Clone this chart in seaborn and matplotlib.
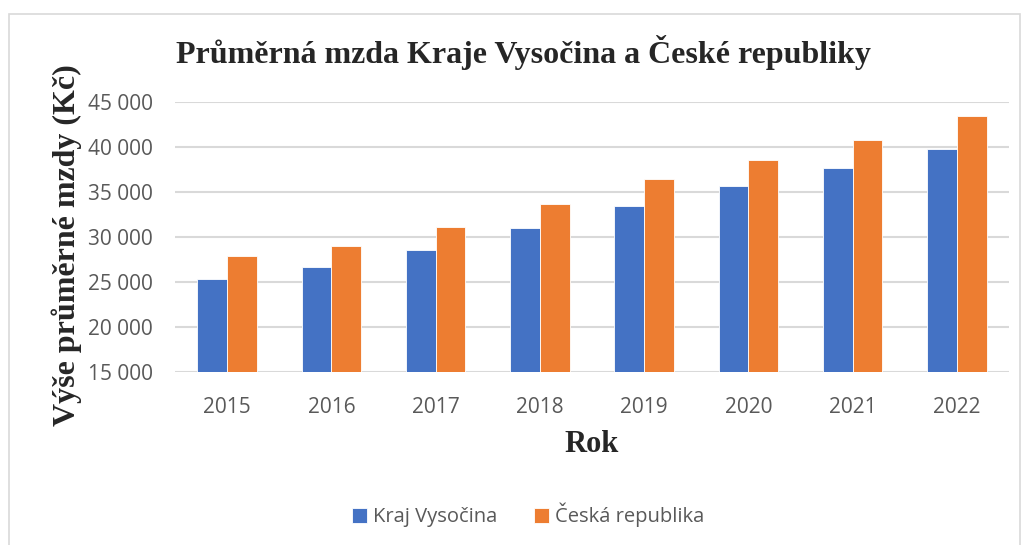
import matplotlib
matplotlib.use('Agg')
import pandas as pd
import matplotlib.pyplot as plt
import seaborn as sns
from matplotlib.patches import Rectangle

# data
years = ['2015', '2016', '2017', '2018', '2019', '2020', '2021', '2022']
vysocina = [25300, 26630, 28530, 30980, 33400, 35660, 37670, 39830]
cr = [27860, 29050, 31130, 33700, 36410, 38600, 40760, 43400]
series_names = ['Kraj Vysočina', 'Česká republika']
y_ticks = [15000, 20000, 25000, 30000, 35000, 40000, 45000]

df = pd.DataFrame({
    'Rok': years * 2,
    'Mzda': vysocina + cr,
    'Oblast': [series_names[0]] * len(years) + [series_names[1]] * len(years),
})

sns.set_style('white')
plt.rcParams['font.family'] = ['Open Sans', 'DejaVu Sans']

fig = plt.figure(figsize=(10.24, 5.45), dpi=100)
ax = fig.add_axes([175 / 1024, 1 - 372 / 545, (1009 - 175) / 1024, 270 / 545])

# light border around the chart
fig.patches.append(Rectangle((9 / 1024, -0.1), 1011 / 1024, 1.1 - 14 / 545,
                             transform=fig.transFigure, fill=False,
                             edgecolor='#d9d9d9', linewidth=1.2))

sns.barplot(data=df, x='Rok', y='Mzda', hue='Oblast', ax=ax,
            palette=['#4472C4', '#ED7D31'], width=0.57, gap=0,
            edgecolor='white', linewidth=0.6, saturation=1)

ax.set_ylim(15000, 45000)
ax.set_yticks(y_ticks)
ax.set_yticklabels([f'{v:,}'.replace(',', ' ') for v in y_ticks])
ax.grid(axis='y', color='#d9d9d9', linewidth=1.5)
ax.set_axisbelow(True)
for s in ax.spines.values():
    s.set_visible(False)
ax.tick_params(axis='both', length=0, labelsize=15, labelcolor='#595959')
ax.tick_params(axis='x', pad=18)
ax.tick_params(axis='y', pad=16)

serif = ['Liberation Serif', 'DejaVu Serif']
ax.set_xlabel('Rok', fontsize=22, fontweight='bold', family=serif, labelpad=9)
ax.set_ylabel('Výše průměrné mzdy (Kč)', fontsize=23, fontweight='bold',
              family=serif)
ax.yaxis.set_label_coords((82 - 175) / 834, (372 - 245) / 270)

fig.text(524 / 1024, 1 - 52 / 545, 'Průměrná mzda Kraje Vysočina a České republiky',
         ha='center', va='center', fontsize=23, fontweight='bold', family=serif)

ax.legend(loc='center', bbox_to_anchor=(528 / 1024, 1 - 515 / 545),
          bbox_transform=fig.transFigure, ncol=2, frameon=False,
          fontsize=14.5, labelcolor='#595959', handlelength=0.75,
          handleheight=0.75, handletextpad=0.3, columnspacing=1.8)

plt.savefig('out.png', dpi=100)
